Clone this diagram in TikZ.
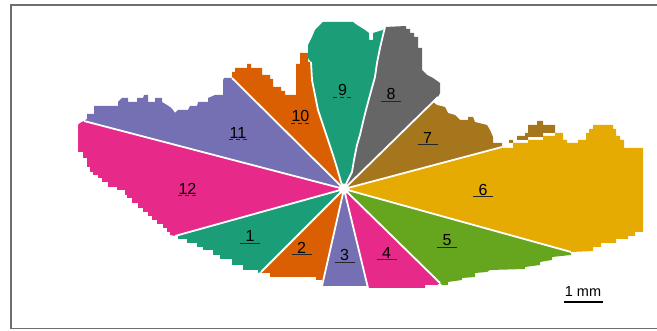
\documentclass[tikz,border=0pt]{standalone}
\usepackage{fontspec}
\setmainfont{Liberation Sans}
\usetikzlibrary{calc}

\definecolor{dteal}{HTML}{1B9E77}
\definecolor{dorange}{HTML}{D95F02}
\definecolor{dpurple}{HTML}{7570B3}
\definecolor{dpink}{HTML}{E7298A}
\definecolor{dgreen}{HTML}{66A61E}
\definecolor{dyellow}{HTML}{E6AB02}
\definecolor{dbrown}{HTML}{A6761D}
\definecolor{dgray}{HTML}{666666}
\definecolor{rimgray}{HTML}{6E6E6E}

\begin{document}
\begin{tikzpicture}[
  x=1pt, y=-1pt,
  gap/.style={white,line width=1.8pt},
  lab/.style={font=\fontsize{16}{16}\selectfont,inner sep=0pt},
  uline/.style={line width=1pt,black!85},
  dline/.style={uline,dash pattern=on 4pt off 3pt},
  rim/.style={rimgray,line width=1.5pt},
]
\useasboundingbox (0,0) rectangle (657,331);

%% ---- Frame -----------------------------------------------------------------
\draw[rim] (657,5) -- (11,5) -- (11,328.5) -- (657,328.5);

\coordinate (c) at (344,189);

%% ---- Sectors 12 and 11 -----------------------------------------------------
\fill[dpink] (c) -- (84,121) -- (80,123) -- (78,125) -- (78,152) -- (83,152) -- (83,158)
  -- (87,158) -- (87,167) -- (90,167) -- (90,172) -- (93,172) -- (93,175) -- (98,175)
  -- (98,178) -- (102,178) -- (102,182) -- (108,182) -- (108,187) -- (117,187)
  -- (117,190) -- (125,190) -- (125,195) -- (127,195) -- (127,198) -- (132,198)
  -- (132,203) -- (138,203) -- (138,208) -- (143,208) -- (143,212) -- (148,212)
  -- (148,216) -- (152,216) -- (152,220) -- (157,220) -- (157,224) -- (163,224)
  -- (163,228) -- (167,228) -- (167,232) -- (170,232) -- (170,235) -- (175,236) -- cycle;
\fill[dpurple] (c) -- (232,78) -- (224,78) -- (223,80) -- (223,95) -- (215,95) -- (208,98)
  -- (208,102) -- (198,102) -- (197,106) -- (190,106) -- (188,110) -- (178,110)
  -- (175,113) -- (173,110) -- (170,107) -- (167,105) -- (162,102) -- (162,98)
  -- (155,98) -- (155,102) -- (148,102) -- (148,95) -- (144,95) -- (143,98) -- (137,98)
  -- (137,102) -- (128,102) -- (128,98) -- (122,98) -- (118,102) -- (118,106)
  -- (94,106) -- (94,114) -- (87,114) -- (87,119) -- (84,121) -- cycle;

%% ---- Sectors 10, 9 and 8 ---------------------------------------------------
\fill[dorange] (c) -- (232,78) -- (232,72) -- (235,72) -- (235,68) -- (247,68) -- (247,64)
  -- (251,64) -- (251,68) -- (262,68) -- (262,75) -- (270,75) -- (270,79) -- (273,79)
  -- (273,87) -- (281,87) -- (281,91) -- (285,91) -- (285,95) -- (296,95) -- (296,64)
  -- (300,64) -- (300,53) -- (308,53) -- (308,62) -- (311,62) -- (312,80) -- (315,95)
  -- (318,110) -- (323,125) -- (328,140) -- (333,155) -- (337,168) -- (341,182) -- cycle;
\fill[dteal] (c) -- (341,182) -- (337,168) -- (333,155) -- (328,140) -- (323,125)
  -- (318,110) -- (315,95) -- (312,80) -- (311,62) -- (308,58) -- (308,45) -- (312,37)
  -- (315,30) -- (318,27) -- (323,22) -- (353,22) -- (357,25) -- (365,30) -- (369,33)
  -- (369,40) -- (373,40) -- (373,33) -- (383,30) -- (385,27) -- (380,48) -- (377,63)
  -- (375,77) -- (370,95) -- (366,110) -- (363,122) -- (360,135) -- (357,145)
  -- (354,160) -- (352,172) -- (347,182) -- cycle;
\fill[dgray] (c) -- (347,182) -- (352,172) -- (354,160) -- (357,145) -- (360,135)
  -- (363,122) -- (366,110) -- (370,95) -- (375,77) -- (377,63) -- (380,48) -- (385,27)
  -- (406,26) -- (406,29) -- (410,29) -- (410,33) -- (414,33) -- (414,37) -- (418,37)
  -- (418,48) -- (422,48) -- (422,70) -- (427,75) -- (433,78) -- (440,83) -- (440,93)
  -- (438,97) -- cycle;

%% ---- Sectors 7 and 6 -------------------------------------------------------
\fill[dbrown] (c) -- (433,102) -- (437,105) -- (445,107) -- (448,113) -- (455,115)
  -- (460,120) -- (468,120) -- (468,117) -- (473,117) -- (475,122) -- (487,125)
  -- (490,130) -- (493,137) -- (493,143) -- (502,143) -- (502,147) -- cycle;
\fill[dbrown] (509,140) rectangle (513,143)
  (517,136) rectangle (528,140)
  (525,133) rectangle (543,137)
  (528,125) rectangle (555,133)
  (537,121) rectangle (543,125);
\fill[dyellow] (c) -- (502,147) -- (502,148) -- (513,148) -- (513,143) -- (528,143)
  -- (528,140) -- (543,140) -- (543,136) -- (555,136) -- (555,133) -- (563,133)
  -- (563,140) -- (567,140) -- (567,143) -- (578,143) -- (578,140) -- (586,140)
  -- (586,133) -- (589,133) -- (589,129) -- (593,129) -- (593,125) -- (613,125)
  -- (613,129) -- (616,129) -- (616,136) -- (620,136) -- (620,140) -- (624,140)
  -- (624,148) -- (643,148) -- (643,232) -- (635,232) -- (635,236) -- (628,236)
  -- (628,239) -- (616,239) -- (616,243) -- (601,243) -- (601,247) -- (593,247)
  -- (593,251) -- (571,252) -- cycle;

%% ---- Sectors 5, 4 and 3 ----------------------------------------------------
\fill[dgreen] (c) -- (571,252) -- (571,255) -- (552,257) -- (552,260) -- (540,262)
  -- (540,265) -- (525,267) -- (525,269) -- (490,270) -- (487,272) -- (475,273)
  -- (475,277) -- (462,278) -- (462,280) -- (448,282) -- (448,285) -- (442,285)
  -- (440,283) -- cycle;
\fill[dpink] (c) -- (440,283) -- (437,285) -- (425,285) -- (425,288) -- (368,288) -- cycle;
\fill[dpurple] (c) -- (368,288) -- (368,286) -- (322,286) -- cycle;

%% ---- Sectors 2 and 1 -------------------------------------------------------
\fill[dorange] (c) -- (322,286) -- (322,280) -- (316,280) -- (316,277) -- (270,277)
  -- (270,273) -- (262,273) -- (261,272) -- cycle;
\fill[dteal] (c) -- (261,272) -- (258,273) -- (258,270) -- (243,270) -- (243,265)
  -- (232,265) -- (232,259) -- (220,259) -- (220,255) -- (213,255) -- (213,250)
  -- (203,250) -- (203,247) -- (197,247) -- (197,243) -- (187,243) -- (187,239)
  -- (178,239) -- (178,236) -- (175,236) -- cycle;

%% ---- White gaps between sectors --------------------------------------------
\foreach \e in {(84,121),(232,78),(438,97),(502,147),(571,252),(440,283),
                (368,288),(322,286),(261,272),(175,236)}
  \draw[gap] (c) -- \e;
\draw[gap] (c) -- (341,182) -- (337,168) -- (333,155) -- (328,140) -- (323,125)
  -- (318,110) -- (315,95) -- (312,80) -- (311,62);
\draw[gap] (c) -- (347,182) -- (352,172) -- (354,160) -- (357,145) -- (360,135)
  -- (363,122) -- (366,110) -- (370,95) -- (375,77) -- (377,63) -- (380,48) -- (385,27);
\fill[white] (c) circle (5.5);

%% ---- Sector numbers ----------------------------------------------------------
\node[lab] (n1) at (250,236) {1};
\node[lab] (n2) at (301.5,247.5) {2};
\node[lab] (n3) at (344.5,255) {3};
\node[lab] (n4) at (386.5,252.5) {4};
\node[lab] (n5) at (447,240) {5};
\node[lab] (n6) at (483,189.5) {6};
\node[lab] (n7) at (427.5,137.5) {7};
\node[lab] (n8) at (391,94) {8};
\node[lab] (n9) at (342.5,90) {9};
\node[lab] (n10) at (300.5,116) {10};
\node[lab] (n11) at (238,132.5) {11};
\node[lab] (n12) at (187.5,188.5) {12};

\foreach \n in {1,...,8}
  \draw[uline] ([shift={(-10,7.5)}]n\n.center) -- ++(20,0);
\foreach \n in {9,...,12}
  \draw[dline] ([shift={(-9.5,7.5)}]n\n.center) -- ++(19,0);

%% ---- Scale bar ---------------------------------------------------------------
\node[font=\fontsize{14.5}{14.5}\selectfont,inner sep=0pt] (mm) at (583,292) {1 mm};
\draw[line width=2.8pt] ([shift={(-19.5,10)}]mm.center) -- ++(39,0);

\end{tikzpicture}
\end{document}
